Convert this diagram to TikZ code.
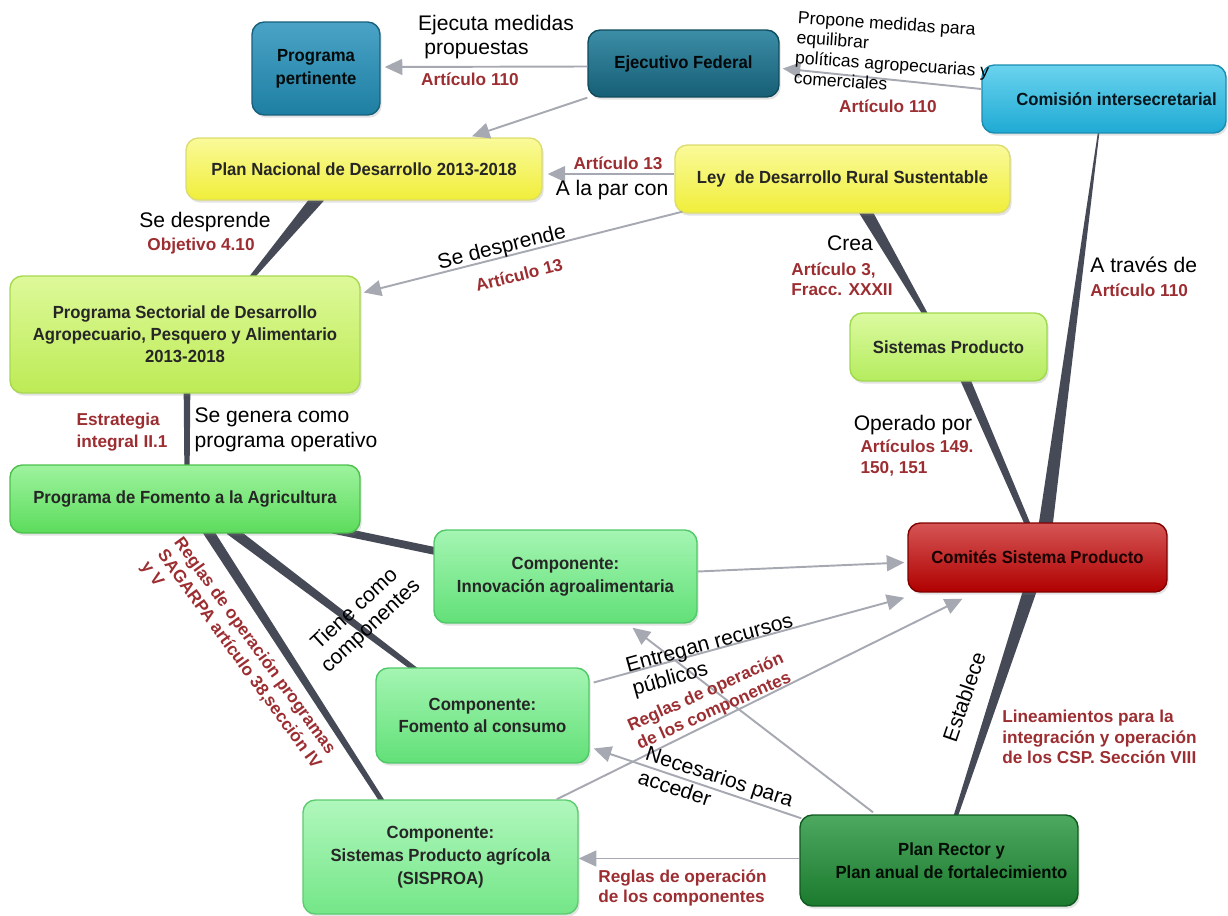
\documentclass[tikz,border=0pt]{standalone}
\usepackage{fontspec}
\setmainfont{Liberation Sans}
\newfontfamily\cnfont[FakeStretch=0.95]{Liberation Sans}
\usetikzlibrary{calc,arrows.meta,shadows,backgrounds}
\definecolor{redc}{HTML}{9C2E32}
\definecolor{thickc}{HTML}{464A56}
\definecolor{arrc}{HTML}{A6A9B1}
\definecolor{ppT}{HTML}{4AA3C6}\definecolor{ppB}{HTML}{1E7FA3}\definecolor{ppD}{HTML}{17607C}
\definecolor{efT}{HTML}{3C8DA6}\definecolor{efB}{HTML}{165F76}\definecolor{efD}{HTML}{0F4A5C}
\definecolor{ciT}{HTML}{6AD3EE}\definecolor{ciB}{HTML}{1FAAD4}\definecolor{ciD}{HTML}{1A8CB0}
\definecolor{yT}{HTML}{FAFA9A}\definecolor{yB}{HTML}{F0EE3A}\definecolor{yD}{HTML}{DCDC70}
\definecolor{psT}{HTML}{DDF99A}\definecolor{psB}{HTML}{BDEB55}\definecolor{psD}{HTML}{A8D850}
\definecolor{spT}{HTML}{DBFAA0}\definecolor{spB}{HTML}{B5EC5E}\definecolor{spD}{HTML}{A0D850}
\definecolor{faT}{HTML}{9EF39E}\definecolor{faB}{HTML}{5CDC5C}\definecolor{faD}{HTML}{4CC04C}
\definecolor{cmT}{HTML}{A4F5B2}\definecolor{cmB}{HTML}{62E078}\definecolor{cmD}{HTML}{50C868}
\definecolor{sisT}{HTML}{B0F7BC}\definecolor{sisB}{HTML}{74E688}\definecolor{sisD}{HTML}{5CCC70}
\definecolor{cspT}{HTML}{D55555}\definecolor{cspB}{HTML}{B00000}\definecolor{cspD}{HTML}{800000}
\definecolor{prT}{HTML}{4DA860}\definecolor{prB}{HTML}{1B7A2E}\definecolor{prD}{HTML}{0F5A1E}
\newcommand{\taper}[4]{\fill[thickc] ($(#1)!#3!90:(#2)$) -- ($(#2)!#4!-90:(#1)$) -- ($(#2)!#4!90:(#1)$) -- ($(#1)!#3!-90:(#2)$) -- cycle;}
\begin{document}
\begin{tikzpicture}[x=0.02cm,y=-0.02cm,
  nbox/.style={rectangle, rounded corners=7pt, inner sep=2pt, align=center, line width=0.8pt,
    font=\cnfont\bfseries\fontsize{10}{13}\selectfont, text=black!85,
    drop shadow={opacity=0.22, shadow xshift=1pt, shadow yshift=-1.5pt}},
  colpp/.style={top color=ppT, bottom color=ppB, draw=ppD, text=black!90!ppD},
  colef/.style={top color=efT, bottom color=efB, draw=efD, text=black!90!efD},
  colci/.style={top color=ciT, bottom color=ciB, draw=ciD, text=black!85!ciD},
  coly/.style={top color=yT, bottom color=yB, draw=yD},
  colps/.style={top color=psT, bottom color=psB, draw=psD},
  colsp/.style={top color=spT, bottom color=spB, draw=spD},
  colfa/.style={top color=faT, bottom color=faB, draw=faD},
  colcm/.style={top color=cmT, bottom color=cmB, draw=cmD},
  colsis/.style={top color=sisT, bottom color=sisB, draw=sisD},
  colcsp/.style={top color=cspT, bottom color=cspB, draw=cspD, text=black!80!cspD},
  colpr/.style={top color=prT, bottom color=prB, draw=prD, text=black!85!prD},
  arr/.style={draw=arrc, line width=1.1pt, -{Triangle[length=10pt,width=9pt]}},
  lbl/.style={inner sep=0pt, font=\fontsize{12}{14}\selectfont, text=black},
  slbl/.style={inner sep=0pt, font=\fontsize{10}{11.5}\selectfont, text=black},
  rlbl/.style={inner sep=0pt, font=\bfseries\fontsize{9.8}{11.6}\selectfont, text=redc}]
\useasboundingbox (0,0) rectangle (1228,916);

% nodes
\node[nbox, colpp, minimum width=2.56cm, minimum height=1.86cm] (pp) at (316,68.5) {Programa\\pertinente};
\node[nbox, colef, minimum width=3.82cm, minimum height=1.34cm] (ef) at (683.5,63.5) {Ejecutivo Federal};
\node[nbox, colci, minimum width=4.88cm, minimum height=1.36cm] (ci) at (1104,99) {\hspace{0.5cm}Comisión intersecretarial};
\node[nbox, coly, minimum width=7.12cm, minimum height=1.24cm] (pnd) at (364,169) {Plan Nacional de Desarrollo 2013-2018};
\node[nbox, coly, minimum width=6.70cm, minimum height=1.36cm] (ley) at (842.5,179) {Ley\ \ de Desarrollo Rural Sustentable};
\node[nbox, colps, minimum width=7.00cm, minimum height=2.34cm, font=\cnfont\bfseries\fontsize{10}{12.5}\selectfont] (ps) at (185,334.5) {Programa Sectorial de Desarrollo\\Agropecuario, Pesquero y Alimentario\\2013-2018};
\node[nbox, colsp, minimum width=3.94cm, minimum height=1.36cm] (sp) at (948.5,347) {Sistemas Producto};
\node[nbox, colfa, minimum width=7.00cm, minimum height=1.36cm] (fa) at (185,499) {Programa de Fomento a la Agricultura};
\node[nbox, colcm, minimum width=5.26cm, minimum height=1.86cm] (inn) at (565.5,576.5) {Componente:\\Innovación agroalimentaria};
\node[nbox, colcsp, minimum width=5.18cm, minimum height=1.38cm] (csp) at (1037.5,557.5) {Comités Sistema Producto};
\node[nbox, colcm, minimum width=4.26cm, minimum height=1.90cm] (fc) at (482.5,715.5) {Componente:\\Fomento al consumo};
\node[nbox, colsis, minimum width=5.50cm, minimum height=2.28cm] (sis) at (440.5,857) {Componente:\\Sistemas Producto agrícola\\(SISPROA)};
\node[nbox, colpr, minimum width=5.56cm, minimum height=1.82cm] (pr) at (939,860.5) {\hspace*{0.5cm}Plan Rector y\\\hspace*{0.5cm}Plan anual de fortalecimiento};

% thick tapered connectors
\begin{pgfonlayer}{background}
\coordinate (t6a) at ($(pnd.south)+(-45,-4)$);
\coordinate (t6b) at ($(ps.north)+(65,4)$);
\taper{t6a}{t6b}{3.6pt}{1.3pt}
\coordinate (t7a) at ($(ps.south)+(2,-4)$);
\coordinate (t7b) at ($(fa.north)+(2,4)$);
\taper{t7a}{t7b}{1.9pt}{1.5pt}
\coordinate (t8a) at ($(ley.south)+(22,-4)$);
\coordinate (t8b) at ($(sp.north)+(-22,4)$);
\taper{t8a}{t8b}{3.6pt}{1.4pt}
\coordinate (t9a) at ($(sp.south)+(16,-4)$);
\coordinate (t9b) at ($(csp.north)+(-9,4)$);
\taper{t9a}{t9b}{2.8pt}{1.6pt}
\coordinate (t10a) at ($(ci.south)+(-5,-4)$);
\coordinate (t10b) at ($(csp.north)+(8,4)$);
\taper{t10a}{t10b}{0.4pt}{4pt}
\coordinate (t20a) at ($(pr.north)+(16,4)$);
\coordinate (t20b) at ($(csp.south)+(-7,-4)$);
\taper{t20a}{t20b}{1.2pt}{3.8pt}
\coordinate (t11a) at ($(fa.south)+(148,-4)$);
\coordinate (t11b) at ($(inn.west)+(4,-25)$);
\taper{t11a}{t11b}{2.2pt}{2.2pt}
\coordinate (t12a) at ($(fa.south)+(45,-4)$);
\coordinate (t12b) at ($(fc.north)+(-65,4)$);
\taper{t12a}{t12b}{3pt}{1.5pt}
\coordinate (t13a) at ($(fa.south)+(22,-4)$);
\coordinate (t13b) at ($(sis.north)+(-57,4)$);
\taper{t13a}{t13b}{3pt}{1.4pt}
\end{pgfonlayer}

% gray arrows
\draw[arr] ($(ef.west)+(0,3)$) -- ($(pp.east)+(4,-1.5)$);
\draw[arr] ($(ci.west)+(0,-10)$) -- ($(ef.east)+(3,5)$);
\draw[arr] (ef.south west) -- ($(pnd.north)+(108,-1)$);
\draw[arr] ($(ley.west)+(0,-5)$) -- ($(pnd.east)+(5,5)$);
\draw[arr] ($(ley.south west)+(8,-2)$) -- ($(ps.east)+(3,-42)$);
\draw[arr] ($(inn.east)+(0,-5)$) -- ($(csp.west)+(-3,5)$);
\draw[arr] ($(fc.east)+(4,-33)$) -- ($(csp.south west)+(-3,5)$);
\draw[arr] ($(sis.north east)+(-22,0)$) -- ($(csp.south)+(-75,6)$);
\draw[arr] ($(pr.north)+(-66,-2)$) -- ($(inn.south)+(67,4)$);
\draw[arr] ($(pr.north west)+(2,4)$) -- ($(fc.east)+(4,33)$);
\draw[arr] ($(pr.west)+(0,-2)$) -- ($(sis.east)+(0,1.5)$);

% labels
\node[lbl, align=left] (l1) at (496,37) {Ejecuta medidas\\\hspace{0.3em}propuestas};
\node[rlbl] (l1r) at (470,79) {Artículo 110};
\node[slbl, align=left, rotate=-4] (l2) at (893,54) {Propone medidas para\\equilibrar\\políticas agropecuarias y\\comerciales};
\node[rlbl] (l2r) at (888,106) {Artículo 110};
\node[rlbl] (l4r) at (618,163) {Artículo 13};
\node[lbl] (l4) at (612,190) {A la par con};
\node[lbl, rotate=14] (l5) at (502,248) {Se desprende};
\node[rlbl, rotate=14] (l5r) at (519,275) {Artículo 13};
\node[lbl] (l6) at (205,222) {Se desprende};
\node[rlbl] (l6r) at (201,246) {Objetivo 4.10};
\node[rlbl, align=left, font=\bfseries\fontsize{9.8}{12.5}\selectfont] (l7r) at (122,432) {Estrategia\\integral II.1};
\node[lbl, align=left] (l7) at (286,430) {Se genera como\\programa operativo};
\node[lbl] (l8) at (850,243) {Crea};
\node[rlbl, align=left] (l8r) at (842,279) {Artículo 3,\\Fracc. XXXII};
\node[lbl] (l9) at (913,425) {Operado por};
\node[rlbl, align=left] (l9r) at (917,458) {Artículos 149.\\150, 151};
\node[lbl, anchor=west] (l10) at (1090,265) {A través de};
\node[rlbl, anchor=west] (l10r) at (1090,290) {Artículo 110};
\node[lbl, rotate=43, align=center, font=\fontsize{12}{13.5}\selectfont] (l12) at (363,618) {Tiene como\\componentes};
\node[rlbl, rotate=-54, align=left, anchor=north west] (l13r) at (184,535) {Reglas de operación programas\\SAGARPA artículo 38,sección IV\\y V};
\node[lbl, rotate=15.5, align=left, font=\fontsize{12}{13.5}\selectfont] (l15) at (713,656) {Entregan recursos\\públicos};
\node[rlbl, rotate=24, align=center] (l16r) at (710,702) {Reglas de operación\\de los componentes};
\node[lbl, rotate=-18, align=left] (l18) at (716,788) {Necesarios para\\acceder};
\node[rlbl, align=left, anchor=west] (l19r) at (598,888) {Reglas de operación\\de los componentes};
\node[lbl, rotate=71] (l20) at (964,697) {Establece};
\node[rlbl, align=left, anchor=west] (l20r) at (1002,737) {Lineamientos para la\\integración y operación\\de los CSP. Sección VIII};
\end{tikzpicture}
\end{document}
